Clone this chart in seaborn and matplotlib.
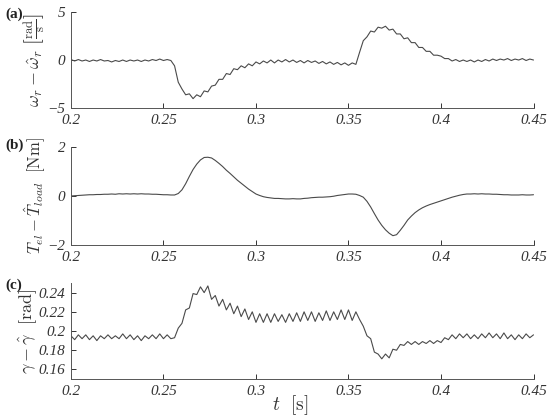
import numpy as np
import seaborn as sns
import matplotlib.pyplot as plt

# time axis 0.2 .. 0.45 s, 2 ms sampling
omega_err = [
    0.05, -0.1, 0.05, -0.1, 0.0, -0.15, 0.0, -0.1, 0.05, -0.1,
    -0.05, -0.2, -0.05, -0.15, 0.0, -0.15, 0.0, -0.1, 0.0, -0.15,
    0.0, -0.1, 0.05, -0.05, 0.1, -0.05, 0.05, -0.05, -0.6, -2.3,
    -3.0, -3.6, -3.5, -4.0, -3.6, -3.8, -3.2, -3.3, -2.7, -2.6,
    -2.0, -2.0, -1.4, -1.5, -0.9, -1.0, -0.6, -0.8, -0.4, -0.6,
    -0.2, -0.4, -0.1, -0.3, 0.0, -0.3, 0.0, -0.2, 0.05, -0.2,
    0.0, -0.25, -0.05, -0.3, -0.05, -0.25, -0.1, -0.35, -0.15, -0.4,
    -0.2, -0.45, -0.25, -0.5, -0.3, -0.55, -0.3, -0.45, 0.8, 2.0,
    2.4, 3.0, 2.9, 3.4, 3.3, 3.5, 3.1, 3.2, 2.7, 2.7,
    2.2, 2.3, 1.8, 1.8, 1.3, 1.3, 0.9, 0.9, 0.5, 0.5,
    0.4, 0.15, 0.15, -0.1, 0.05, -0.15, 0.0, -0.15, 0.0, -0.2,
    0.0, -0.15, 0.05, -0.1, 0.1, -0.05, 0.1, 0.0, 0.15, -0.05,
    0.1, 0.0, 0.15, -0.05, 0.1, 0.0,
]

torque_err = [
    0.0, 0.01, 0.02, 0.03, 0.04, 0.05, 0.05, 0.06, 0.06, 0.07,
    0.07, 0.08, 0.07, 0.09, 0.08, 0.09, 0.08, 0.09, 0.08, 0.09,
    0.08, 0.08, 0.07, 0.07, 0.06, 0.05, 0.05, 0.04, 0.04, 0.10,
    0.25, 0.50, 0.80, 1.08, 1.30, 1.47, 1.57, 1.58, 1.55, 1.45,
    1.33, 1.20, 1.05, 0.92, 0.78, 0.64, 0.52, 0.40, 0.28, 0.18,
    0.08, 0.02, -0.03, -0.06, -0.08, -0.10, -0.10, -0.11, -0.12, -0.12,
    -0.11, -0.12, -0.12, -0.10, -0.09, -0.07, -0.06, -0.05, -0.05, -0.04,
    -0.03, -0.01, 0.02, 0.04, 0.06, 0.08, 0.08, 0.07, 0.02, -0.05,
    -0.22, -0.45, -0.72, -0.98, -1.20, -1.38, -1.52, -1.62, -1.58, -1.40,
    -1.20, -0.98, -0.82, -0.68, -0.57, -0.48, -0.41, -0.35, -0.30, -0.25,
    -0.20, -0.15, -0.10, -0.05, -0.01, 0.03, 0.06, 0.08, 0.08, 0.09,
    0.08, 0.09, 0.08, 0.08, 0.07, 0.07, 0.06, 0.05, 0.05, 0.04,
    0.04, 0.04, 0.05, 0.04, 0.04, 0.05,
]

gamma_err = [
    0.195, 0.191, 0.196, 0.192, 0.196, 0.191, 0.195, 0.190, 0.195, 0.192,
    0.196, 0.192, 0.195, 0.192, 0.197, 0.192, 0.196, 0.191, 0.195, 0.190,
    0.195, 0.192, 0.196, 0.192, 0.197, 0.192, 0.196, 0.192, 0.193, 0.203,
    0.208, 0.222, 0.224, 0.239, 0.238, 0.246, 0.240, 0.247, 0.233, 0.237,
    0.226, 0.233, 0.222, 0.229, 0.218, 0.226, 0.215, 0.223, 0.212, 0.220,
    0.209, 0.218, 0.209, 0.218, 0.209, 0.218, 0.210, 0.217, 0.209, 0.218,
    0.210, 0.219, 0.210, 0.220, 0.211, 0.220, 0.210, 0.219, 0.211, 0.221,
    0.211, 0.220, 0.212, 0.222, 0.212, 0.222, 0.211, 0.220, 0.212, 0.205,
    0.195, 0.192, 0.178, 0.176, 0.171, 0.176, 0.172, 0.181, 0.180, 0.186,
    0.185, 0.189, 0.186, 0.189, 0.186, 0.189, 0.187, 0.190, 0.187, 0.190,
    0.188, 0.193, 0.191, 0.196, 0.192, 0.197, 0.193, 0.197, 0.192, 0.196,
    0.192, 0.197, 0.193, 0.198, 0.193, 0.197, 0.192, 0.198, 0.192, 0.196,
    0.191, 0.196, 0.192, 0.197, 0.193, 0.196,
]

xticks = [0.2, 0.25, 0.3, 0.35, 0.4, 0.45]
xtick_labels = ['0.2', '0.25', '0.3', '0.35', '0.4', '0.45']

sns.set_style('ticks')
plt.rcParams['mathtext.fontset'] = 'cm'
plt.rcParams['font.family'] = ['Liberation Serif', 'DejaVu Serif']

fig = plt.figure(figsize=(5.5, 4.19), dpi=100)

panels = [
    (omega_err, (-5, 5), [-5, 0, 5], ['\u22125', '0', '5'],
     r'$\omega_r - \hat{\omega}_r\ \left[\frac{\mathrm{rad}}{\mathrm{s}}\right]$',
     [0.129, 0.7415, 0.841, 0.2305], '(a)', 14, -0.05, 13),
    (torque_err, (-2, 2), [-2, 0, 2], ['\u22122', '0', '2'],
     r'$T_{el} - \hat{T}_{load}\ \ [\mathrm{Nm}]$',
     [0.129, 0.4153, 0.841, 0.234], '(b)', 145, -0.05, 12),
    (gamma_err, (0.15, 0.25), [0.16, 0.18, 0.2, 0.22, 0.24],
     ['0.16', '0.18', '0.2', '0.22', '0.24'],
     r'$\gamma - \hat{\gamma}\ \ [\mathrm{rad}]$',
     [0.129, 0.0955, 0.841, 0.229], '(c)', 285, -0.068, 13),
]

for vals, ylim, yt, ytl, ylab, pos, tag, tag_y, lab_x, lab_fs in panels:
    ax = fig.add_axes(pos)
    t = np.linspace(0.2, 0.45, len(vals))
    sns.lineplot(x=t, y=vals, ax=ax, color='#4a4a4a', linewidth=0.8)
    ax.set_xlim(0.2, 0.45)
    ax.set_ylim(*ylim)
    ax.set_xticks(xticks)
    ax.set_xticklabels(xtick_labels, fontstyle='italic', fontsize=11)
    ax.set_yticks(yt)
    ax.set_yticklabels(ytl, fontstyle='italic', fontsize=11)
    ax.tick_params(direction='in', length=3.5, width=0.7, colors='#333333', pad=4)
    sns.despine(ax=ax)
    for s in ['left', 'bottom']:
        ax.spines[s].set_linewidth(0.7)
        ax.spines[s].set_color('#555555')
    ax.set_ylabel(ylab, fontsize=lab_fs, color='#333333')
    ax.yaxis.set_label_coords(lab_x, 0.5)
    fig.text(5 / 550, 1 - tag_y / 419, tag, fontsize=11, fontweight='bold',
             va='center', ha='left', color='#222222')

fig.text(290 / 550, 1 - 405 / 419, r'$t\ \ [\mathrm{s}]$', fontsize=14,
         ha='center', va='center', color='#333333')

fig.savefig('out.png', dpi=100)
